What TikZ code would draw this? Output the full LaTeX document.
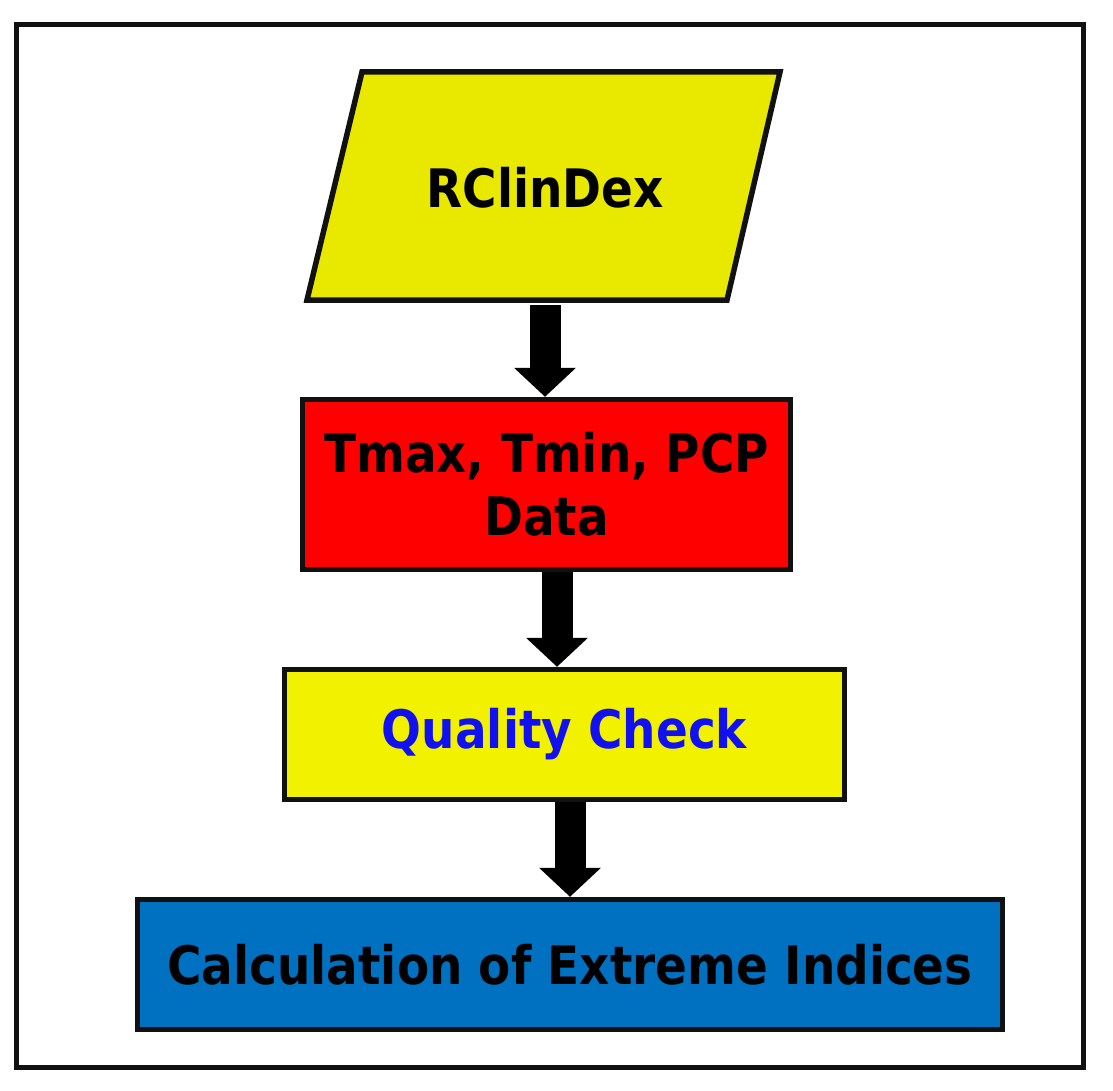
\documentclass[tikz,border=0pt]{standalone}
\usepackage{fontspec}
\usetikzlibrary{arrows.meta}
\newfontfamily\bfont[FakeStretch=0.885]{DejaVu Sans}
\definecolor{paraYellow}{HTML}{E9E900}
\definecolor{boxYellow}{HTML}{F2F200}
\definecolor{boxRed}{HTML}{FF0000}
\definecolor{boxBlue}{HTML}{0070C0}
\definecolor{txtBlue}{HTML}{1010F0}
\definecolor{edge}{HTML}{111111}
\tikzset{
  box/.style={draw=edge, line width=5.5pt, rectangle, inner sep=0pt, align=center,
    font=\bfont\bfseries\fontsize{53}{63}\selectfont},
  blk/.style={draw=black, line width=31pt,
    -{Triangle[width=62pt,length=29pt,line width=0pt]}},
}
\begin{document}
\begin{tikzpicture}[x=1pt,y=-1pt]
\useasboundingbox (0,0) rectangle (1113,1091);
\draw[edge, line width=5pt] (16,25) rectangle (1083,1067);
% parallelogram
\filldraw[draw=edge, fill=paraYellow, line width=5.5pt, line join=miter]
  (307,300) -- (727,300) -- (780,72) -- (362,72) -- cycle;
\node[box, draw=none, minimum width=420pt, minimum height=228pt, outer sep=2.75pt] (p) at (545,188) {RClinDex};
\node[box, fill=boxRed, minimum width=488pt, minimum height=170pt] (r) at (546.5,484.5)
  {Tmax, Tmin, PCP\\Data};
\node[box, fill=boxYellow, text=txtBlue, minimum width=560pt, minimum height=130pt] (q) at (564.5,734.5)
  {Quality Check};
\node[box, fill=boxBlue, minimum width=865pt, minimum height=130pt] (c) at (570,964.5)
  {Calculation of Extreme Indices};
\draw[blk] ([xshift=0pt]p.south) -- ([xshift=0pt]p.south |- r.north);
\draw[blk] ([xshift=10.5pt]r.south) -- ([xshift=10.5pt]r.south |- q.north);
\draw[blk] ([xshift=5.5pt]q.south) -- ([xshift=5.5pt]q.south |- c.north);
\end{tikzpicture}
\end{document}
